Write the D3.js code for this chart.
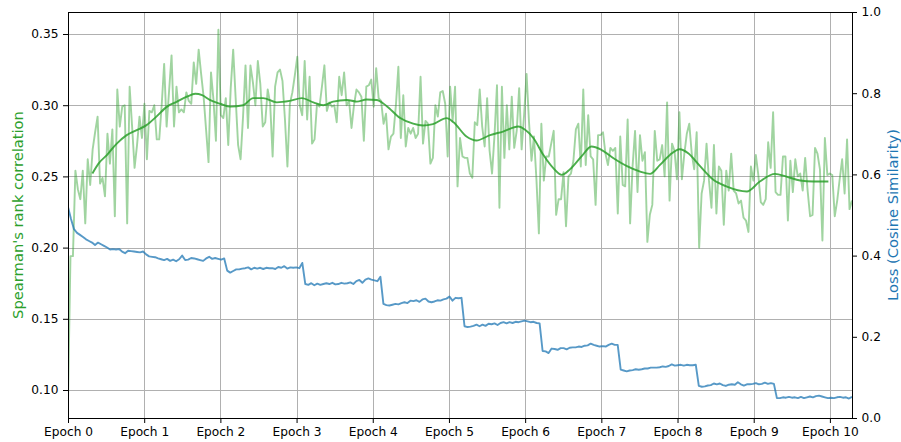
<!DOCTYPE html>
<html>
<head>
<meta charset="utf-8">
<script src="https://cdn.jsdelivr.net/npm/d3@7"></script>
<style>
  body { margin: 0; background: #fff; }
  svg { display: block; font-family: "DejaVu Sans", sans-serif; }
</style>
</head>
<body>
<svg id="chart" width="901" height="442"></svg>
<script>
// ---- data ----
const epochTicks = [0, 1, 2, 3, 4, 5, 6, 7, 8, 9, 10];
const epochLabels = ["Epoch 0", "Epoch 1", "Epoch 2", "Epoch 3", "Epoch 4", "Epoch 5",
                     "Epoch 6", "Epoch 7", "Epoch 8", "Epoch 9", "Epoch 10"];
const lastEpoch = 10.29;           // training position of the final logged point
const spearmanTicks = [0.10, 0.15, 0.20, 0.25, 0.30, 0.35];
const lossTicks = [0.0, 0.2, 0.4, 0.6, 0.8, 1.0];

// Spearman's rank correlation on the eval set, logged at regular intervals
const spearmanRaw = [
  0.093,0.194,0.194,0.254,0.241,0.234,0.254,0.217,0.262,0.244,
  0.269,0.281,0.292,0.245,0.249,0.236,0.280,0.259,0.283,0.222,
  0.311,0.285,0.299,0.300,0.217,0.313,0.285,0.256,0.272,0.292,
  0.277,0.301,0.262,0.296,0.295,0.300,0.276,0.276,0.300,0.329,
  0.285,0.310,0.335,0.285,0.313,0.295,0.297,0.295,0.309,0.303,
  0.301,0.330,0.315,0.339,0.322,0.306,0.283,0.260,0.323,0.304,
  0.275,0.353,
  0.293,0.291,0.305,0.272,0.312,0.339,0.305,0.272,0.262,0.292,
  0.328,0.284,0.328,0.316,0.300,0.331,0.315,0.285,0.288,0.311,
  0.301,0.264,0.313,0.323,0.325,0.317,0.290,0.257,0.301,0.309,
  0.321,0.334,0.300,0.293,0.331,0.290,0.320,0.273,0.276,0.301,
  0.299,0.313,0.328,0.296,0.302,0.299,0.300,0.288,0.320,0.307,
  0.323,0.300,0.303,0.284,0.300,0.311,0.309,0.306,0.275,0.313,
  0.314,0.318,0.299,0.326,
  0.305,0.303,0.287,0.294,0.269,0.278,0.280,0.300,0.327,0.277,
  0.307,0.271,0.284,0.280,0.284,0.277,0.280,0.320,0.273,0.289,
  0.287,0.259,0.263,0.300,0.292,0.309,0.310,0.301,0.264,0.313,
  0.289,0.313,0.243,0.277,0.264,0.263,0.263,0.252,0.249,0.288,
  0.286,0.311,0.285,0.271,0.305,0.268,0.252,0.279,0.314,0.228,
  0.313,0.263,0.300,0.269,0.306,0.270,0.282,0.312,0.269,0.293,
  0.322,0.288,0.261,0.278,
  0.248,0.210,0.287,0.247,0.264,0.264,0.273,0.282,0.223,0.234,
  0.234,0.253,0.215,0.250,0.252,0.261,0.283,0.287,0.257,0.311,
  0.258,0.293,0.264,0.262,0.230,0.279,0.279,0.281,0.266,0.258,
  0.270,0.268,0.270,0.224,0.278,0.244,0.243,0.290,0.217,0.257,
  0.282,0.239,0.279,0.261,0.267,0.204,0.223,0.230,0.282,0.261,
  0.262,0.272,0.250,0.302,0.233,0.273,0.268,0.248,0.295,0.248,
  0.266,0.280,0.287,
  0.266,0.255,0.281,0.200,0.238,0.247,0.273,0.247,0.228,0.272,
  0.224,0.257,0.254,0.216,0.254,0.240,0.266,0.240,0.238,0.231,
  0.233,0.221,0.219,0.211,0.257,0.247,0.265,0.251,0.232,0.230,
  0.234,0.274,0.256,0.295,0.239,0.237,0.237,0.264,0.264,0.219,
  0.261,0.239,0.262,0.250,0.252,0.240,0.263,0.240,0.222,0.223,
  0.270,0.266,0.255,0.205,0.277,0.251,0.252,0.251,0.222,0.233,
  0.248,0.262,0.238,0.276,0.227,0.233
];

// smoothed trend of the correlation
const smoothEpochs = [
  0.32,0.40,0.51,0.64,0.77,0.88,1.03,1.16,1.30,1.43,1.56,1.67,1.76,1.86,2.00,2.13,
  2.30,2.43,2.56,2.74,2.91,3.07,3.22,3.35,3.48,3.66,3.79,3.92,4.05,4.18,4.36,4.53,
  4.66,4.79,4.97,5.06,5.23,5.36,5.54,5.71,5.91,6.00,6.11,6.24,6.37,6.48,6.59,6.74,
  6.87,7.00,7.16,7.33,7.51,7.64,7.77,7.90,8.03,8.14,8.29,8.47,8.64,8.91,9.08,9.28,
  9.43,9.61,9.78,9.98
];
const smoothValues = [
  0.252,0.259,0.265,0.273,0.279,0.282,0.286,0.292,0.299,0.3025,0.306,0.308,0.307,0.3037,0.301,0.299,
  0.300,0.305,0.305,0.302,0.303,0.305,0.302,0.300,0.3025,0.3037,0.3025,0.304,0.3037,0.2995,0.291,0.287,
  0.2857,0.2867,0.2909,0.288,0.278,0.2752,0.279,0.2815,0.285,0.2827,0.2768,0.265,0.2558,0.2511,0.2551,0.264,
  0.271,0.2687,0.2628,0.2574,0.2534,0.2518,0.2581,0.2651,0.2691,0.2663,0.2575,0.2476,0.243,0.2394,0.2464,0.2518,
  0.2499,0.2471,0.2464,0.2464
];

// training loss (cosine similarity), logged at regular intervals
const lossValues = [
  0.520,0.490,0.465,0.456,0.451,0.446,0.440,0.436,0.432,0.426,
  0.432,0.428,0.424,0.420,0.415,0.416,0.415,0.416,0.410,0.406,
  0.412,0.411,0.410,0.409,0.408,0.410,0.403,0.398,0.397,0.396,
  0.393,0.391,0.389,0.392,0.387,0.390,0.386,0.391,0.400,0.389,
  0.390,0.394,0.393,0.391,0.389,0.387,0.393,0.397,0.392,0.394,
  0.392,0.390,0.393,0.363,0.358,0.362,0.366,0.366,0.368,0.369,
  0.371,0.366,0.370,0.368,0.370,0.367,0.370,0.369,0.369,0.367,
  0.372,0.370,0.374,0.368,0.371,0.370,0.371,0.369,0.382,0.330,
  0.328,0.332,0.327,0.331,0.328,0.330,0.332,0.330,0.333,0.329,
  0.330,0.333,0.331,0.332,0.334,0.330,0.337,0.340,0.333,0.341,
  0.344,0.341,0.339,0.337,0.348,0.281,0.278,0.277,0.279,0.281,
  0.280,0.283,0.285,0.283,0.289,0.288,0.290,0.286,0.292,0.294,
  0.287,0.285,0.287,0.290,0.289,0.292,0.294,0.299,0.289,0.296,
  0.295,0.296,0.226,0.224,0.225,0.227,0.230,0.226,0.230,0.227,
  0.232,0.231,0.233,0.229,0.234,0.236,0.233,0.236,0.234,0.237,
  0.236,0.238,0.240,0.238,0.236,0.237,0.234,0.233,0.165,0.164,
  0.160,0.171,0.170,0.168,0.172,0.172,0.169,0.173,0.174,0.174,
  0.176,0.175,0.178,0.179,0.183,0.180,0.178,0.176,0.177,0.176,
  0.180,0.183,0.180,0.180,0.119,0.117,0.115,0.117,0.118,0.120,
  0.119,0.120,0.122,0.122,0.124,0.124,0.124,0.125,0.127,0.126,
  0.128,0.132,0.129,0.130,0.131,0.129,0.131,0.130,0.130,0.131,
  0.079,0.077,0.078,0.080,0.081,0.085,0.083,0.085,0.081,0.079,
  0.082,0.083,0.082,0.088,0.083,0.080,0.083,0.083,0.084,0.086,
  0.083,0.084,0.087,0.084,0.086,0.084,0.049,0.049,0.051,0.050,
  0.052,0.050,0.051,0.049,0.052,0.049,0.051,0.053,0.051,0.054,
  0.055,0.053,0.051,0.049,0.050,0.049,0.051,0.052,0.050,0.051,
  0.048,0.052
];

// ---- layout ----
const W = 901, H = 442;
const plot = { left: 68, right: 852, top: 12, bottom: 418 };
const GREEN = "#2ca02c", BLUE = "#1f77b4";
const tickFont = "12.2px", labelFont = "14.7px";

const svg = d3.select("#chart");

const x = d3.scaleLinear().domain([0, lastEpoch]).range([plot.left, plot.right]);
const yL = d3.scaleLinear().domain([0.08034, 0.36545]).range([plot.bottom, plot.top]);
const yR = d3.scaleLinear().domain([0, 1]).range([plot.bottom, plot.top]);

svg.append("defs").append("clipPath").attr("id", "plotClip")
  .append("rect")
  .attr("x", plot.left).attr("y", plot.top)
  .attr("width", plot.right - plot.left).attr("height", plot.bottom - plot.top);

// grid (epoch verticals + correlation horizontals)
const grid = svg.append("g").attr("stroke", "#b0b0b0").attr("stroke-width", 1)
  .attr("shape-rendering", "crispEdges");
grid.selectAll("line.v").data(epochTicks).join("line")
  .attr("x1", d => Math.round(x(d)) + 0.5).attr("x2", d => Math.round(x(d)) + 0.5)
  .attr("y1", plot.top).attr("y2", plot.bottom);
grid.selectAll("line.h").data(spearmanTicks).join("line")
  .attr("y1", d => Math.round(yL(d)) + 0.5).attr("y2", d => Math.round(yL(d)) + 0.5)
  .attr("x1", plot.left).attr("x2", plot.right);

const marks = svg.append("g").attr("clip-path", "url(#plotClip)");

const rawStep = lastEpoch / (spearmanRaw.length - 1);
const lossStep = lastEpoch / (lossValues.length - 1);

// raw correlation
marks.append("path")
  .datum(spearmanRaw)
  .attr("fill", "none").attr("stroke", GREEN).attr("stroke-opacity", 0.45)
  .attr("stroke-width", 1.9).attr("stroke-linejoin", "round")
  .attr("d", d3.line().x((d, i) => x(i * rawStep)).y(d => yL(d)));

// smoothed correlation
marks.append("path")
  .datum(smoothEpochs.map((e, i) => [e, smoothValues[i]]))
  .attr("fill", "none").attr("stroke", GREEN).attr("stroke-opacity", 0.85)
  .attr("stroke-width", 1.9).attr("stroke-linejoin", "round")
  .attr("d", d3.line().curve(d3.curveMonotoneX).x(d => x(d[0])).y(d => yL(d[1])));

// loss
marks.append("path")
  .datum(lossValues)
  .attr("fill", "none").attr("stroke", BLUE).attr("stroke-opacity", 0.75)
  .attr("stroke-width", 1.9).attr("stroke-linejoin", "round")
  .attr("d", d3.line().x((d, i) => x(i * lossStep)).y(d => yR(d)));

// axes
function styleAxis(g) {
  g.selectAll("text").attr("font-size", tickFont).attr("fill", "#000")
    .attr("font-family", "DejaVu Sans, sans-serif");
  g.selectAll("line").attr("stroke", "#000");
  g.select(".domain").remove();
}

svg.append("g")
  .attr("transform", `translate(0,${plot.bottom})`)
  .call(d3.axisBottom(x).tickValues(epochTicks)
    .tickFormat((d, i) => epochLabels[i]).tickSize(5).tickPadding(4.5))
  .call(styleAxis);

svg.append("g")
  .attr("transform", `translate(${plot.left},0)`)
  .call(d3.axisLeft(yL).tickValues(spearmanTicks)
    .tickFormat(d3.format(".2f")).tickSize(5).tickPadding(4.5))
  .call(styleAxis);

svg.append("g")
  .attr("transform", `translate(${plot.right},0)`)
  .call(d3.axisRight(yR).tickValues(lossTicks)
    .tickFormat(d3.format(".1f")).tickSize(5).tickPadding(4.5))
  .call(styleAxis);

// frame
svg.append("rect")
  .attr("x", plot.left + 0.5).attr("y", plot.top + 0.5)
  .attr("width", plot.right - plot.left).attr("height", plot.bottom - plot.top)
  .attr("fill", "none").attr("stroke", "#000").attr("stroke-width", 1)
  .attr("shape-rendering", "crispEdges");

// axis titles
const midY = (plot.top + plot.bottom) / 2;
svg.append("text")
  .attr("transform", `translate(18,${midY}) rotate(-90)`)
  .attr("text-anchor", "middle").attr("dy", "0.35em")
  .attr("font-size", labelFont).attr("fill", GREEN)
  .text("Spearman's rank correlation");

svg.append("text")
  .attr("transform", `translate(893,${midY}) rotate(-90)`)
  .attr("text-anchor", "middle").attr("dy", "0.35em")
  .attr("font-size", labelFont).attr("fill", BLUE)
  .text("Loss (Cosine Similarity)");
</script>
</body>
</html>
